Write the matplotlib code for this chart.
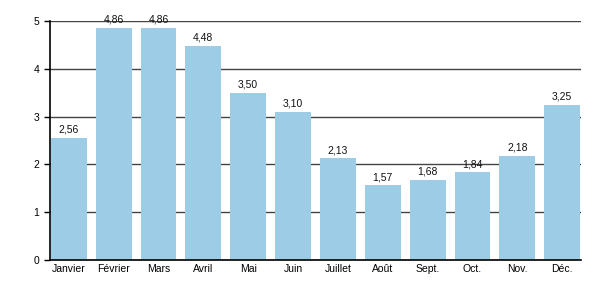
import matplotlib
matplotlib.use('Agg')
import matplotlib.pyplot as plt

months = ["Janvier", "Février", "Mars", "Avril", "Mai", "Juin",
          "Juillet", "Août", "Sept.", "Oct.", "Nov.", "Déc."]
values = [2.56, 4.86, 4.86, 4.48, 3.50, 3.10, 2.13, 1.57, 1.68, 1.84, 2.18, 3.25]
yticks = [0, 1, 2, 3, 4, 5]

plt.rcParams['font.family'] = ['Liberation Sans', 'DejaVu Sans']

fig = plt.figure(figsize=(6, 3), dpi=100)
ax = fig.add_axes([0.0833, 0.1333, 0.885, 0.7967])

x = range(len(months))
bars = ax.bar(x, values, width=0.8, color='#9dcde6', zorder=2)

# value labels with decimal comma
for xi, v in zip(x, values):
    ax.text(xi, v + 0.06, f"{v:.2f}".replace('.', ','), ha='center', va='bottom',
            fontsize=7.5, color='#111111', zorder=3)

ax.set_ylim(0, 5)
ax.set_xlim(-0.42, 11.42)
ax.set_yticks(yticks)
ax.set_xticks(list(x))
ax.set_xticklabels(months)
ax.tick_params(axis='x', length=0, labelsize=7.5, pad=3)
ax.tick_params(axis='y', length=4, width=1, labelsize=7.5, direction='out')

ax.yaxis.grid(True, color='#444444', linewidth=1, zorder=1)
ax.set_axisbelow(True)

for side in ['top', 'right']:
    ax.spines[side].set_visible(False)
ax.spines['left'].set_linewidth(1.2)
ax.spines['bottom'].set_linewidth(1.2)

fig.savefig('out.png', dpi=100)
